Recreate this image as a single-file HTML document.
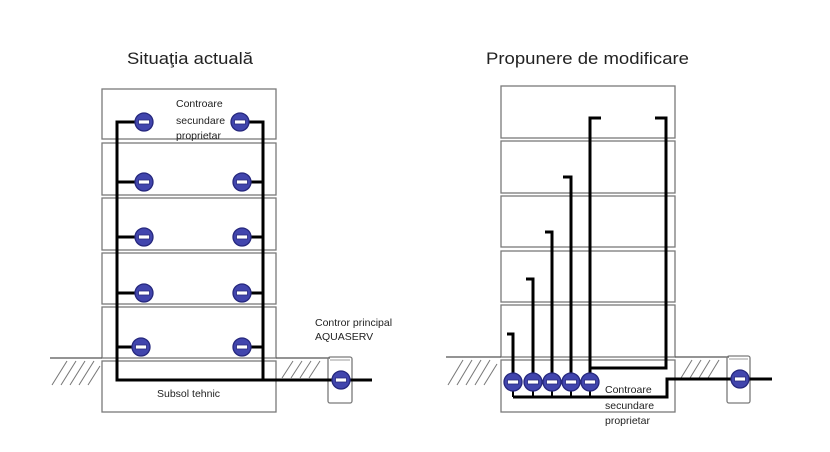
<!DOCTYPE html>
<html><head><meta charset="utf-8"><style>
html,body{margin:0;padding:0;background:#fff;}
svg{display:block;}
text{font-family:"Liberation Sans",sans-serif;fill:#222;}
</style></head><body>
<svg width="830" height="452" viewBox="0 0 830 452" xmlns="http://www.w3.org/2000/svg">
<defs>
<g id="m">
<circle r="9" fill="#4145ad" stroke="#26287e" stroke-width="1.3"/>
<rect x="-5.5" y="-2" width="11" height="4" fill="#fff" stroke="#26287e" stroke-width="0.8"/>
</g>
</defs>
<!-- titles -->
<text x="127" y="64" font-size="17" textLength="126" lengthAdjust="spacingAndGlyphs">Situaţia actuală</text>
<text x="486" y="64" font-size="17" textLength="203" lengthAdjust="spacingAndGlyphs">Propunere de modificare</text>

<!-- LEFT building -->
<g fill="none" stroke="#7a7a7a" stroke-width="1.3">
<rect x="102" y="89" width="174" height="50"/>
<rect x="102" y="143" width="174" height="52"/>
<rect x="102" y="198" width="174" height="52"/>
<rect x="102" y="253" width="174" height="51"/>
<rect x="102" y="307" width="174" height="51"/>
<rect x="102" y="361" width="174" height="51"/>
<line x1="50" y1="358" x2="102" y2="358" stroke="#555"/>
<line x1="276" y1="358" x2="330" y2="358" stroke="#555"/>
<rect x="328" y="357" width="24" height="46" rx="2"/>
<line x1="330" y1="360" x2="350" y2="360" stroke-width="0.8"/>
</g>
<g stroke="#777" stroke-width="1">
<line x1="52" y1="385" x2="67" y2="361"/>
<line x1="61" y1="385" x2="76" y2="361"/>
<line x1="70" y1="385" x2="85" y2="361"/>
<line x1="79" y1="385" x2="94" y2="361"/>
<line x1="88" y1="385" x2="100" y2="366"/>
<line x1="282" y1="378" x2="293" y2="361"/>
<line x1="291" y1="378" x2="302" y2="361"/>
<line x1="300" y1="378" x2="311" y2="361"/>
<line x1="309" y1="378" x2="320" y2="361"/>
</g>
<g fill="none" stroke="#000" stroke-width="3">
<polyline points="144,122 117,122 117,380 372,380"/>
<polyline points="240,122 263,122 263,380"/>
<line x1="117" y1="182" x2="144" y2="182"/>
<line x1="117" y1="237" x2="144" y2="237"/>
<line x1="117" y1="293" x2="144" y2="293"/>
<line x1="117" y1="347" x2="144" y2="347"/>
<line x1="242" y1="182" x2="263" y2="182"/>
<line x1="242" y1="237" x2="263" y2="237"/>
<line x1="242" y1="293" x2="263" y2="293"/>
<line x1="242" y1="347" x2="263" y2="347"/>
</g>
<use href="#m" x="144" y="122"/><use href="#m" x="240" y="122"/>
<use href="#m" x="144" y="182"/><use href="#m" x="242" y="182"/>
<use href="#m" x="144" y="237"/><use href="#m" x="242" y="237"/>
<use href="#m" x="144" y="293"/><use href="#m" x="242" y="293"/>
<use href="#m" x="141" y="347"/><use href="#m" x="242" y="347"/>
<use href="#m" x="341" y="380"/>
<text x="176" y="107" font-size="10.5">Controare</text>
<text x="176" y="124" font-size="10.5">secundare</text>
<text x="176" y="139" font-size="10.5">proprietar</text>
<text x="157" y="397" font-size="10.5">Subsol tehnic</text>
<text x="315" y="326" font-size="10.5">Contror principal</text>
<text x="315" y="340" font-size="10.5">AQUASERV</text>

<!-- RIGHT building -->
<g fill="none" stroke="#7a7a7a" stroke-width="1.3">
<rect x="501" y="86" width="174" height="52"/>
<rect x="501" y="141" width="174" height="52"/>
<rect x="501" y="196" width="174" height="51"/>
<rect x="501" y="251" width="174" height="51"/>
<rect x="501" y="305" width="174" height="52"/>
<rect x="501" y="360" width="174" height="52"/>
<line x1="446" y1="357" x2="501" y2="357" stroke="#555"/>
<line x1="675" y1="357" x2="729" y2="357" stroke="#555"/>
<rect x="727" y="356" width="23" height="47" rx="2"/>
<line x1="729" y1="359" x2="748" y2="359" stroke-width="0.8"/>
</g>
<g stroke="#777" stroke-width="1">
<line x1="448" y1="385" x2="463" y2="360"/>
<line x1="457" y1="385" x2="472" y2="360"/>
<line x1="466" y1="385" x2="481" y2="360"/>
<line x1="475" y1="385" x2="490" y2="360"/>
<line x1="484" y1="385" x2="497" y2="364"/>
<line x1="681" y1="378" x2="692" y2="360"/>
<line x1="690" y1="378" x2="701" y2="360"/>
<line x1="699" y1="378" x2="710" y2="360"/>
<line x1="708" y1="378" x2="719" y2="360"/>
</g>
<g fill="none" stroke="#000" stroke-width="3">
<polyline points="507,334 513,334 513,383"/>
<polyline points="526,279 533,279 533,383"/>
<polyline points="545,232 552,232 552,383"/>
<polyline points="563,177 571,177 571,383"/>
<polyline points="601,118 590,118 590,383"/>
<polyline points="655,118 666,118 666,368 590,368"/>
<polyline points="513,397 667,397 667,379 772,379"/>
<line x1="513" y1="383" x2="513" y2="397" stroke-width="2"/>
<line x1="533" y1="383" x2="533" y2="397" stroke-width="2"/>
<line x1="552" y1="383" x2="552" y2="397" stroke-width="2"/>
<line x1="571" y1="383" x2="571" y2="397" stroke-width="2"/>
<line x1="590" y1="383" x2="590" y2="397" stroke-width="2"/>
</g>
<use href="#m" x="513" y="382"/>
<use href="#m" x="533" y="382"/>
<use href="#m" x="552" y="382"/>
<use href="#m" x="571" y="382"/>
<use href="#m" x="590" y="382"/>
<use href="#m" x="740" y="379"/>
<text x="605" y="393" font-size="10.5">Controare</text>
<text x="605" y="409" font-size="10.5">secundare</text>
<text x="605" y="424" font-size="10.5">proprietar</text>
</svg>
</body></html>
